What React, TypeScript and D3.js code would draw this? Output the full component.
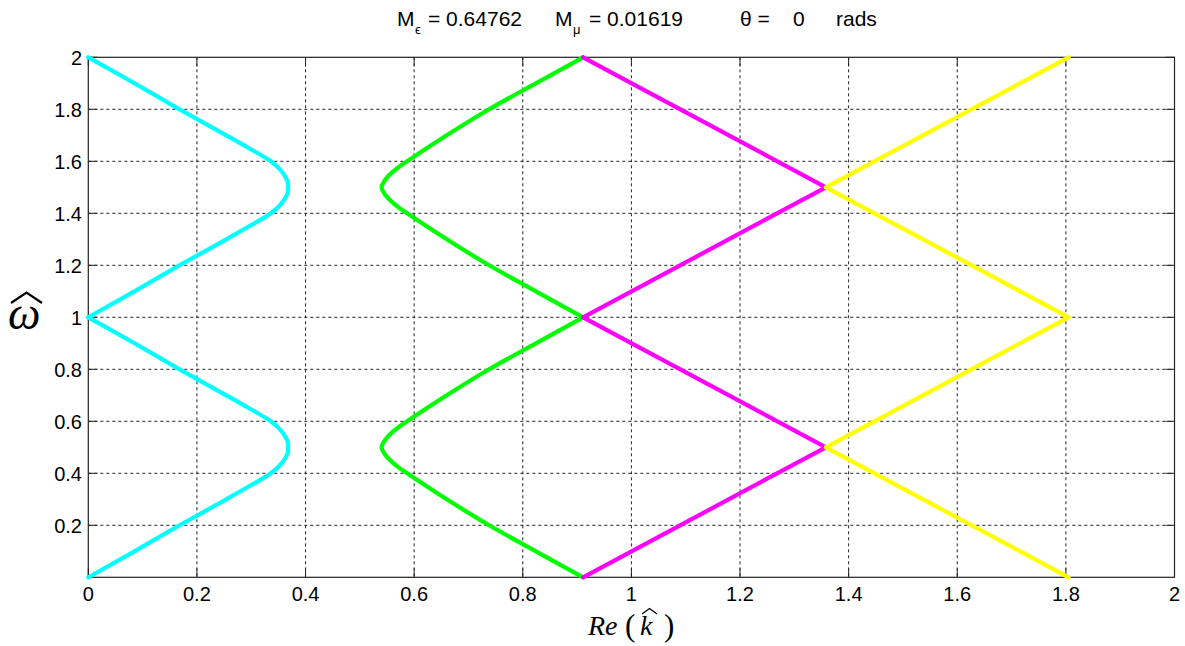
import React from "react";
import * as d3 from "d3";

// Frequency samples (two periods) used by the curved branches
const omegaCurve = [
  0, 0.1, 0.2, 0.3, 0.35, 0.4, 0.42, 0.44, 0.46, 0.48, 0.5, 0.52, 0.54, 0.56, 0.58, 0.6, 0.65, 0.7, 0.8, 0.9, 1.0,
  1.1, 1.2, 1.3, 1.35, 1.4, 1.42, 1.44, 1.46, 1.48, 1.5, 1.52, 1.54, 1.56, 1.58, 1.6, 1.65, 1.7, 1.8, 1.9, 2.0,
];

// Re(k) of the first branch (cyan)
const kCyan = [
  0, 0.085, 0.168, 0.254, 0.296, 0.336, 0.3475, 0.3565, 0.363, 0.3672, 0.368, 0.3672, 0.363, 0.3565, 0.3475, 0.336, 0.296, 0.254, 0.168, 0.085, 0,
  0.085, 0.168, 0.254, 0.296, 0.336, 0.3475, 0.3565, 0.363, 0.3672, 0.368, 0.3672, 0.363, 0.3565, 0.3475, 0.336, 0.296, 0.254, 0.168, 0.085, 0,
];

// Re(k) of the second branch (green)
const kGreen = [
  0.911, 0.824, 0.738, 0.66, 0.623, 0.587, 0.573, 0.561, 0.551, 0.544, 0.54, 0.544, 0.551, 0.561, 0.573, 0.587, 0.623, 0.66, 0.738, 0.824, 0.911,
  0.824, 0.738, 0.66, 0.623, 0.587, 0.573, 0.561, 0.551, 0.544, 0.54, 0.544, 0.551, 0.561, 0.573, 0.587, 0.623, 0.66, 0.738, 0.824, 0.911,
];

// Straight branches
const omegaLinear = [0, 0.5, 1, 1.5, 2];
const kMagenta = [0.911, 1.358, 0.911, 1.358, 0.911];
const kYellow = [1.805, 1.358, 1.805, 1.358, 1.805];

const xTicks = [0, 0.2, 0.4, 0.6, 0.8, 1, 1.2, 1.4, 1.6, 1.8, 2];
const xTickLabels = ["0", "0.2", "0.4", "0.6", "0.8", "1", "1.2", "1.4", "1.6", "1.8", "2"];
const yTicks = [0.2, 0.4, 0.6, 0.8, 1, 1.2, 1.4, 1.6, 1.8, 2];
const yTickLabels = ["0.2", "0.4", "0.6", "0.8", "1", "1.2", "1.4", "1.6", "1.8", "2"];

const W = 1185;
const H = 646;
const left = 88.3;
const right = 1174.5;
const top = 57.3;
const bottom = 577.3;

const x = d3.scaleLinear().domain([0, 2]).range([left, right]);
const y = d3.scaleLinear().domain([0, 2]).range([bottom, top]);

type Pt = [number, number];

function zipPts(ks: number[], ws: number[]): Pt[] {
  return ks.map((k, i) => [k, ws[i]] as Pt);
}

// Split a branch at the cusps (whole-number omega) so each piece is smoothed on its own
function splitAtCusps(pts: Pt[]): Pt[][] {
  const out: Pt[][] = [];
  let cur: Pt[] = [];
  pts.forEach((p, i) => {
    cur.push(p);
    if (i > 0 && Number.isInteger(p[1]) && i < pts.length - 1) {
      out.push(cur);
      cur = [p];
    }
  });
  if (cur.length > 1) out.push(cur);
  return out;
}

const smoothLine = d3
  .line<Pt>()
  .x((d) => x(d[0]))
  .y((d) => y(d[1]))
  .curve(d3.curveMonotoneY);

const straightLine = d3
  .line<Pt>()
  .x((d) => x(d[0]))
  .y((d) => y(d[1]));

const font = "Arial, 'Liberation Sans', sans-serif";
const serif = "'Liberation Serif', 'DejaVu Serif', serif";

export default function App() {
  const cyanParts = splitAtCusps(zipPts(kCyan, omegaCurve));
  const greenParts = splitAtCusps(zipPts(kGreen, omegaCurve));
  const magenta = zipPts(kMagenta, omegaLinear);
  const yellow = zipPts(kYellow, omegaLinear);
  const tickLen = 9;
  const tY = 26;

  return (
    <svg
      width={W}
      height={H}
      style={{ position: "absolute", left: 0, top: 0, background: "#fff" }}
    >
      <rect x={0} y={0} width={W} height={H} fill="#fff" />

      {/* grid */}
      <g stroke="#222" strokeWidth={1} strokeDasharray="3,3">
        {xTicks
          .filter((t) => t > 0 && t < 2)
          .map((t) => (
            <line key={"gx" + t} x1={x(t)} x2={x(t)} y1={top} y2={bottom} />
          ))}
        {yTicks
          .filter((t) => t < 2)
          .map((t) => (
            <line key={"gy" + t} x1={left} x2={right} y1={y(t)} y2={y(t)} />
          ))}
      </g>

      {/* ticks on all four sides, pointing inward */}
      <g stroke="#222" strokeWidth={1}>
        {xTicks.map((t) => (
          <g key={"tx" + t}>
            <line x1={x(t)} x2={x(t)} y1={bottom} y2={bottom - tickLen} />
            <line x1={x(t)} x2={x(t)} y1={top} y2={top + tickLen} />
          </g>
        ))}
        {yTicks.map((t) => (
          <g key={"ty" + t}>
            <line x1={left} x2={left + tickLen} y1={y(t)} y2={y(t)} />
            <line x1={right} x2={right - tickLen} y1={y(t)} y2={y(t)} />
          </g>
        ))}
      </g>

      {/* axes box */}
      <rect
        x={left}
        y={top}
        width={right - left}
        height={bottom - top}
        fill="none"
        stroke="#222"
        strokeWidth={1.2}
      />

      {/* branches */}
      <g fill="none" strokeWidth={4.2} strokeLinejoin="round" strokeLinecap="round">
        {cyanParts.map((p, i) => (
          <path key={"c" + i} d={smoothLine(p) || ""} stroke="#00FFFF" />
        ))}
        {greenParts.map((p, i) => (
          <path key={"g" + i} d={smoothLine(p) || ""} stroke="#00FF00" />
        ))}
        <path d={straightLine(magenta) || ""} stroke="#FF00FF" />
        <path d={straightLine(yellow) || ""} stroke="#FFFF00" />
      </g>

      {/* tick labels */}
      <g fontFamily={font} fontSize={20} fill="#000">
        {xTicks.map((t, i) => (
          <text key={"lx" + t} x={x(t)} y={601} textAnchor="middle">
            {xTickLabels[i]}
          </text>
        ))}
        {yTicks.map((t, i) => (
          <text key={"ly" + t} x={82} y={y(t) + 8} textAnchor="end">
            {yTickLabels[i]}
          </text>
        ))}
      </g>

      {/* title */}
      <g fontFamily={font} fontSize={21} fill="#000">
        <text x={397} y={tY}>M</text>
        <text x={415} y={tY + 8} fontSize={13}>ϵ</text>
        <text x={428} y={tY}>= 0.64762</text>
        <text x={555} y={tY}>M</text>
        <text x={573} y={tY + 8} fontSize={13}>μ</text>
        <text x={589} y={tY}>= 0.01619</text>
        <text x={740} y={tY}>θ =</text>
        <text x={793} y={tY}>0</text>
        <text x={836} y={tY}>rads</text>
      </g>

      {/* y-axis label: omega hat */}
      <text x={8} y={329} fontFamily={serif} fontStyle="italic" fontSize={46} fill="#000">
        ω
      </text>
      <path d="M11,303 L26.5,292.5 L42,303" fill="none" stroke="#000" strokeWidth={2.2} />

      {/* x-axis label: Re (k hat) */}
      <g fontFamily={serif} fontSize={28} fill="#000">
        <text x={588} y={635} fontStyle="italic">Re</text>
        <text x={625} y={636} fontSize={31}>(</text>
        <text x={640} y={635} fontStyle="italic">k</text>
        <text x={664} y={636} fontSize={31}>)</text>
      </g>
      <path d="M642,614 L649.5,608.5 L657,614" fill="none" stroke="#000" strokeWidth={1.3} />
    </svg>
  );
}
